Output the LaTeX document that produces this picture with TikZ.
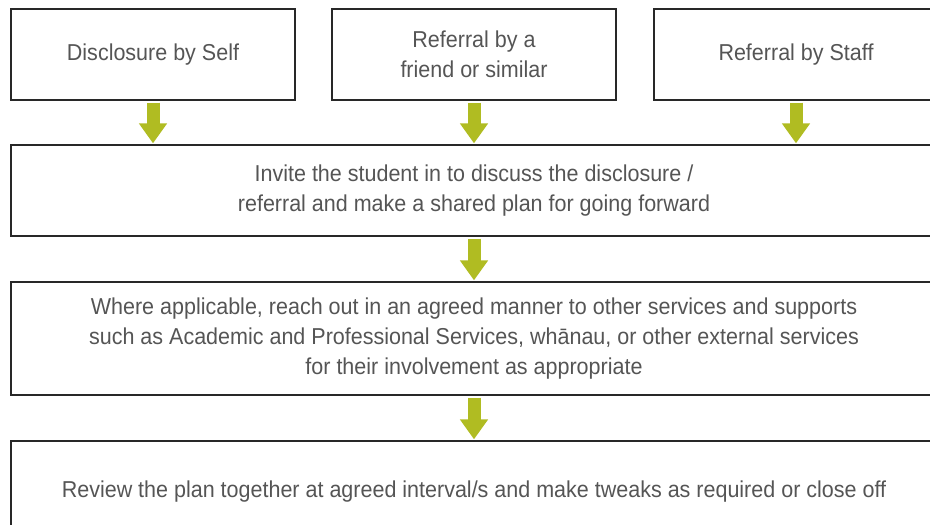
\documentclass[tikz,border=0pt]{standalone}
\usepackage{fontspec}
\setmainfont{Liberation Sans}[FakeStretch = 0.935]
\usepackage{xcolor}
\usepackage{tikz}
\usetikzlibrary{arrows.meta}
\definecolor{lolive}{RGB}{176, 188, 34}
\definecolor{dtext}{RGB}{85, 85, 85}
\definecolor{dline}{RGB}{40, 40, 40}
\def\stepFont{\fontsize{23}{30}\selectfont}
\tikzset{>=latex}
\tikzset{
  stepbox/.style = {draw = dline, line width = 1.3pt, fill = white, text = dtext,
    align = center, font = \stepFont, inner sep = 0pt, minimum width = 284pt},
  widebox/.style = {stepbox, minimum width = 926pt},
  flowarrow/.style = {draw = lolive, line width = 13pt,
    -{Triangle[width = 27pt, length = 20pt]}, shorten < = 2pt, shorten > = 1pt}
}

\begin{document}
\begin{tikzpicture}[x = 1pt, y = -1pt]
  \clip (0, 0) rectangle (930, 525);
  \node[stepbox, minimum height = 91pt] (self) at (153, 54.5){Disclosure by Self};
  \node[stepbox, minimum height = 91pt] (friend) at (474, 54.5){Referral by a\\friend or similar};
  \node[stepbox, minimum height = 91pt] (staff) at (796, 54.5){Referral by Staff};
  \node[widebox, minimum height = 91pt] (invite) at (474, 190.5){Invite the student in to discuss the disclosure /\\referral and make a shared plan for going forward};
  \node[widebox, minimum height = 113pt] (reach) at (474, 338.5){Where applicable, reach out in an agreed manner to other services and supports\\such as Academic and Professional Services, wh\=anau, or other external services\\for their involvement as appropriate};
  \node[widebox, minimum height = 102pt] (review) at (474, 492){Review the plan together at agreed interval/s and make tweaks as required or close off};
  \draw[flowarrow] (self.south) -- (self.south |- invite.north);
  \draw[flowarrow] (friend.south) -- (friend.south |- invite.north);
  \draw[flowarrow] (staff.south) -- (staff.south |- invite.north);
  \draw[flowarrow] (invite.south) -- (reach.north);
  \draw[flowarrow] (reach.south) -- (review.north);
\end{tikzpicture}
\end{document}
